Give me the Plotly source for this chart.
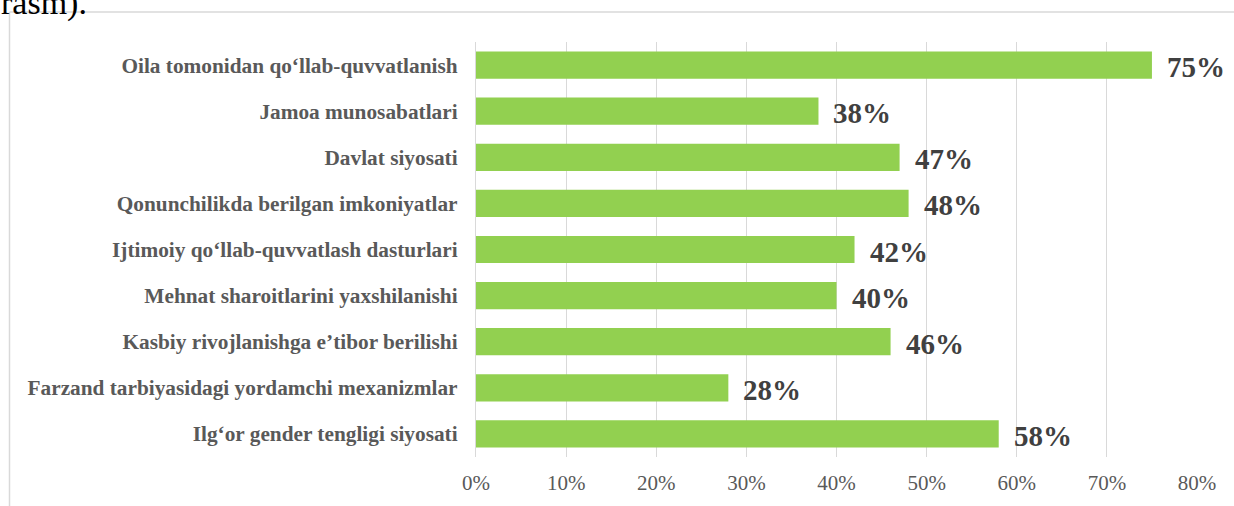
import plotly.graph_objects as go

categories = [
    "Oila tomonidan qo‘llab-quvvatlanish",
    "Jamoa munosabatlari",
    "Davlat siyosati",
    "Qonunchilikda berilgan imkoniyatlar",
    "Ijtimoiy qo‘llab-quvvatlash dasturlari",
    "Mehnat sharoitlarini yaxshilanishi",
    "Kasbiy rivojlanishga e’tibor berilishi",
    "Farzand tarbiyasidagi yordamchi mexanizmlar",
    "Ilg‘or gender tengligi siyosati",
]
values = [0.75, 0.38, 0.47, 0.48, 0.42, 0.40, 0.46, 0.28, 0.58]
value_labels = ["75%", "38%", "47%", "48%", "42%", "40%", "46%", "28%", "58%"]
tick_vals = [0, 0.1, 0.2, 0.3, 0.4, 0.5, 0.6, 0.7, 0.8]
tick_text = ["0%", "10%", "20%", "30%", "40%", "50%", "60%", "70%", "80%"]

SERIF = "Liberation Serif, Times New Roman, serif"

fig = go.Figure()
fig.add_trace(go.Bar(
    x=values, y=categories, orientation="h",
    marker=dict(color="#92D050", line=dict(width=0)),
    hoverinfo="skip",
))

annotations = []
for c, v, t in zip(categories, values, value_labels):
    annotations.append(dict(
        x=v, y=c, xref="x", yref="y", text=t, showarrow=False,
        xanchor="left", yanchor="middle", xshift=13, yshift=-2,
        font=dict(family=SERIF, size=29, color="#404040", weight="bold"),
    ))

annotations.append(dict(
    x=(89 - 476) / 721, y=(457.5 - 2.5) / 415.5, xref="paper", yref="paper",
    text="rasm).", showarrow=False, xanchor="right", yanchor="middle",
    font=dict(family=SERIF, size=34, color="#000000"),
))

shapes = [
    dict(type="line", xref="paper", yref="paper",
         x0=(9.5 - 476) / 721, x1=1.2, y0=(457.5 - 12) / 415.5, y1=(457.5 - 12) / 415.5,
         line=dict(color="#D9D9D9", width=1.5)),
    dict(type="line", xref="paper", yref="paper",
         x0=(9.5 - 476) / 721, x1=(9.5 - 476) / 721, y0=(457.5 - 12) / 415.5, y1=-0.3,
         line=dict(color="#D9D9D9", width=1.5)),
]

fig.update_layout(
    width=1234, height=506,
    margin=dict(l=476, r=37, t=42, b=49),
    paper_bgcolor="white", plot_bgcolor="white",
    bargap=0.41,
    showlegend=False,
    annotations=annotations,
    shapes=shapes,
    xaxis=dict(
        range=[0, 0.8], tickvals=tick_vals, ticktext=tick_text,
        showgrid=True, gridcolor="#D9D9D9", gridwidth=1.3,
        zeroline=False, showline=False, ticks="",
        tickfont=dict(family=SERIF, size=21, color="#595959"),
        ticklabelstandoff=11,
        fixedrange=True,
    ),
    yaxis=dict(
        categoryorder="array", categoryarray=categories,
        autorange="reversed",
        showgrid=False, zeroline=False,
        showline=True, linecolor="#D9D9D9", linewidth=1.3,
        ticks="",
        tickfont=dict(family=SERIF, size=21.3, color="#595959", weight="bold"),
        ticklabelstandoff=13,
        fixedrange=True,
    ),
)

fig.write_html(
    "out.html",
    config={"displayModeBar": False},
    post_script="document.body.style.margin='0';document.body.style.overflow='hidden';",
)
